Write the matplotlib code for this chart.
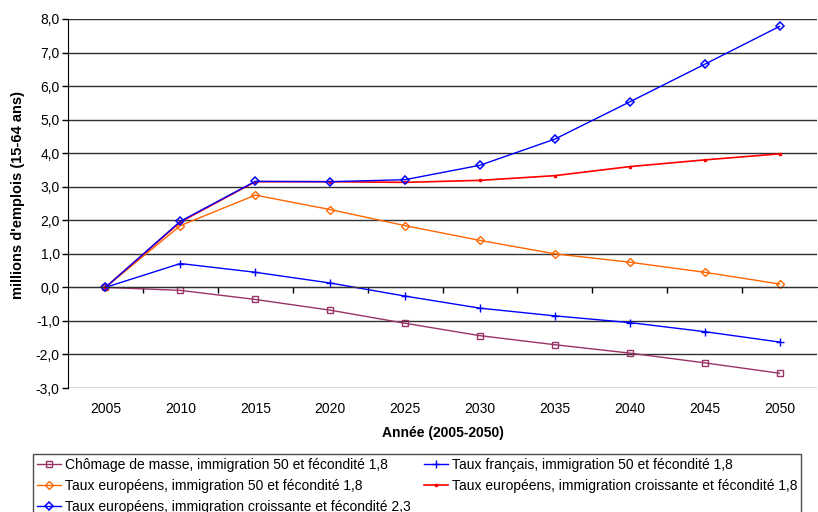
import matplotlib
matplotlib.use("Agg")
import matplotlib.pyplot as plt
from matplotlib.ticker import FuncFormatter

plt.rcParams['font.family'] = ['Liberation Sans', 'DejaVu Sans']

years = ["2005", "2010", "2015", "2020", "2025", "2030", "2035", "2040", "2045", "2050"]
chomage = [0.0, -0.09, -0.36, -0.68, -1.07, -1.44, -1.71, -1.96, -2.25, -2.56]
taux_fr = [0.0, 0.71, 0.45, 0.13, -0.26, -0.62, -0.85, -1.05, -1.32, -1.63]
taux_eu_50 = [0.0, 1.84, 2.75, 2.32, 1.84, 1.40, 1.00, 0.75, 0.45, 0.10]
taux_eu_cr_18 = [0.0, 1.95, 3.15, 3.15, 3.13, 3.19, 3.33, 3.60, 3.80, 3.98]
taux_eu_cr_23 = [0.0, 1.97, 3.16, 3.15, 3.21, 3.64, 4.42, 5.53, 6.65, 7.78]

labels = [
    "Chômage de masse, immigration 50 et fécondité 1,8",
    "Taux français, immigration 50 et fécondité 1,8",
    "Taux européens, immigration 50 et fécondité 1,8",
    "Taux européens, immigration croissante et fécondité 1,8",
    "Taux européens, immigration croissante et fécondité 2,3",
]

fig = plt.figure(figsize=(8.18, 5.12), dpi=100)
ax = fig.add_axes([68/818, 1-388/512, (817-68)/818, (388-19)/512])

x = list(range(len(years)))
h1, = ax.plot(x, chomage, color='#993366', lw=1, marker='s', ms=5, mfc='none', mew=1, label=labels[0])
h2, = ax.plot(x, taux_fr, color='#0000FF', lw=1, marker='+', ms=6, mew=1, label=labels[1])
h3, = ax.plot(x, taux_eu_50, color='#FF6600', lw=1, marker='D', ms=4, mfc='none', mew=1, label=labels[2])
h4, = ax.plot(x, taux_eu_cr_18, color='#FF0000', lw=1.2, marker='s', ms=2, label=labels[3])
h5, = ax.plot(x, taux_eu_cr_23, color='#0000FF', lw=1, marker='D', ms=4, mfc='none', mew=1.1, label=labels[4])

ax.set_xlim(-0.5, 9.5)
ax.set_ylim(-3, 8)
ax.set_yticks(range(-3, 9))
ax.yaxis.set_major_formatter(FuncFormatter(lambda v, p: f"{v:.1f}".replace('.', ',')))
ax.tick_params(axis='y', labelsize=10, length=4, width=1, color='black', pad=2)
for yv in range(-3, 9):
    ax.axhline(yv, color='#303030', lw=1, zorder=0.5)

# x axis crossing at zero, ticks at category boundaries
ax.spines['bottom'].set_position(('data', 0))
ax.spines['bottom'].set_color('#303030')
ax.set_xticks([i + 0.5 for i in range(9)])
ax.tick_params(axis='x', length=4, width=1, labelbottom=False, color='black')
ax.spines['top'].set_visible(False)
ax.spines['right'].set_visible(False)
ax.spines['left'].set_color('black')

sec = ax.secondary_xaxis('bottom')
sec.set_xticks(x)
sec.set_xticklabels(years)
sec.tick_params(length=0, labelsize=10, pad=10)
sec.spines['bottom'].set_visible(False)
sec.set_xlabel("Année (2005-2050)", fontsize=10, fontweight='bold', labelpad=7)

ax.set_ylabel("millions d'emplois (15-64 ans)", fontsize=10.5, fontweight='bold')
ax.yaxis.set_label_coords(-0.057, 0.523)

leg = fig.legend([h1, h3, h5, h2, h4], [labels[0], labels[2], labels[4], labels[1], labels[3]],
                 ncol=2, loc='upper left', bbox_to_anchor=(33/818, 1-454/512),
                 fontsize=10, frameon=True, fancybox=False,
                 borderpad=0.3, labelspacing=0.48, handlelength=1.7, handletextpad=0.3,
                 columnspacing=0.95, borderaxespad=0)
leg.get_frame().set_edgecolor('#202020')
leg.get_frame().set_linewidth(1)

fig.savefig("out.png", dpi=100)
